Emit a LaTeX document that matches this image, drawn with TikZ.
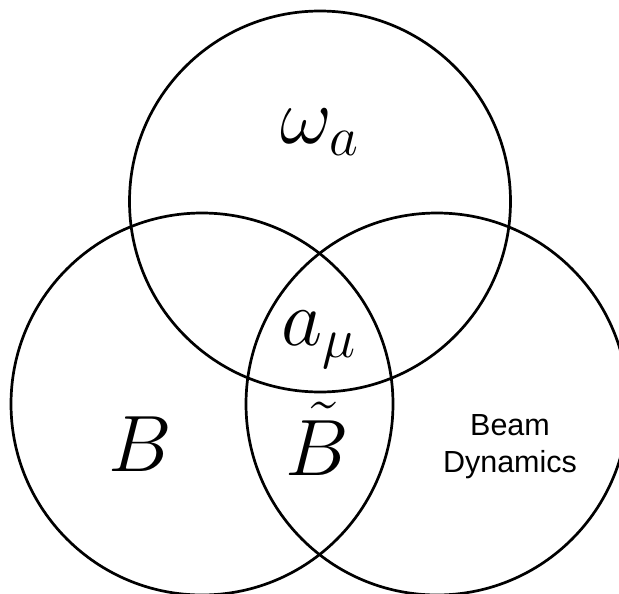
\RequirePackage{fix-cm}
\documentclass[tikz,border=0pt]{standalone}
\usepackage{fontspec}
\newfontfamily\arialfont{Liberation Sans}
\begin{document}
\begin{tikzpicture}[x=1pt,y=-1pt,
  venn/.style={draw=black,line width=2.7pt,circle,inner sep=0pt,outer sep=0pt},
  mathlbl/.style={anchor=base,inner sep=0pt,font=\fontsize{80}{96}\selectfont},
  sanslbl/.style={anchor=base,inner sep=0pt,align=center,font=\arialfont\fontsize{30.5}{37}\selectfont}]
\useasboundingbox (0,0) rectangle (619,594);
\node[venn,minimum size=381pt] (top) at (320,201.5) {};
\node[venn,minimum size=382pt] (left) at (202,404) {};
\node[venn,minimum size=382pt] (right) at (437,404) {};
\node[mathlbl] (wa) at (320,143) {$\omega_a$};
\node[mathlbl] (amu) at (319,345) {$a_{\mu}$};
\node[mathlbl] (b) at (140,471) {$B$};
\node[mathlbl] (bt) at (317,475) {$\tilde{B}$};
\node[sanslbl] (beam) at (510,472) {Beam\\Dynamics};
\end{tikzpicture}
\end{document}
